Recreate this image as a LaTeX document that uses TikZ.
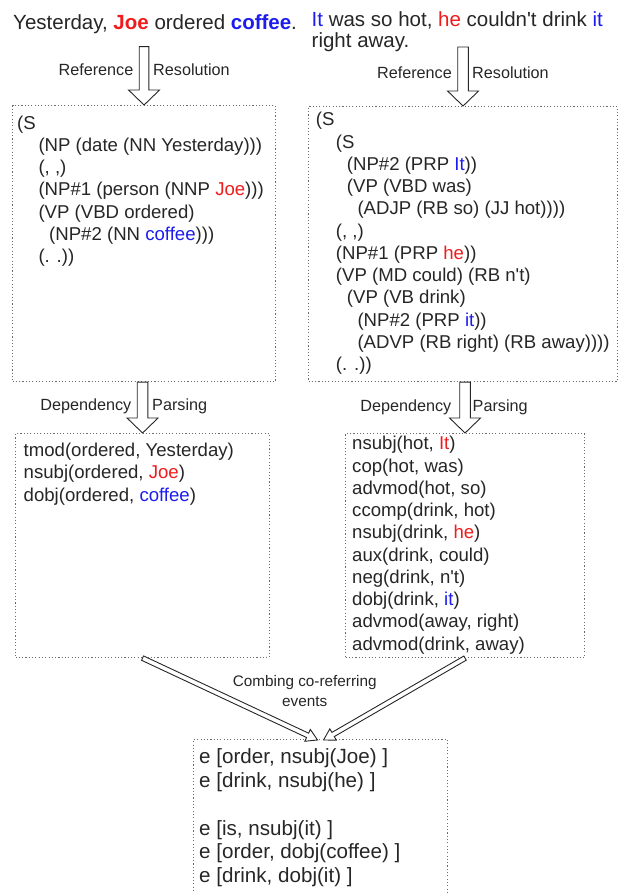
\documentclass[tikz,border=0pt]{standalone}
\usepackage{fontspec}
\setmainfont{Liberation Sans}
\usetikzlibrary{calc}
\definecolor{myred}{RGB}{238,28,28}
\definecolor{myblue}{RGB}{28,28,238}
\definecolor{ink}{RGB}{38,38,38}
\newcommand{\redw}[1]{\textcolor{myred}{#1}}
\newcommand{\bluew}[1]{\textcolor{myblue}{#1}}
\newcommand{\apos}{\textquotesingle}
% hollow block arrow: #1 from, #2 to, #3 shaft half width, #4 head half width, #5 head length
\newcommand{\blockarrow}[5]{%
  \coordinate (bac) at ($(#2)!#5!(#1)$);
  \draw[blockarr] ($(#1)!#3!90:(#2)$) -- ($(bac)!#3!90:(#2)$) -- ($(bac)!#4!90:(#2)$)
    -- (#2) -- ($(bac)!#4!-90:(#2)$) -- ($(bac)!#3!-90:(#2)$) -- ($(#1)!#3!-90:(#2)$) -- cycle;
}
\tikzset{
  titletxt/.style={anchor=base west, inner sep=0pt, font=\fontsize{20.5}{23}\selectfont, text=ink},
  treetxt/.style={anchor=base west, inner sep=0pt, font=\fontsize{18.6}{22}\selectfont, text=ink},
  evtxt/.style={anchor=base west, inner sep=0pt, font=\fontsize{20.6}{23}\selectfont, text=ink},
  lbl/.style={inner sep=0pt, font=\fontsize{16.2}{19}\selectfont, text=ink},
  combtxt/.style={inner sep=0pt, align=center, font=\fontsize{15.3}{20}\selectfont, text=ink},
  dotbox/.style={draw=gray!85!black, line width=1.1pt, dash pattern=on 1.1pt off 2.2pt, inner sep=0pt, anchor=north west},
  blockarr/.style={draw=ink, line width=0.9pt, fill=white, line join=miter},
}
\begin{document}
\begin{tikzpicture}[x=1pt,y=-1pt]
\useasboundingbox (0,0) rectangle (619,893);

% titles
\node[titletxt] (t1) at (13,29.3) {Yesterday, \textbf{\redw{Joe}} ordered \textbf{\bluew{coffee}}.};
\node[titletxt] (t2a) at (311.5,26.7) {\bluew{It} was so hot, \redw{he} couldn\apos t drink \bluew{it}};
\node[titletxt] (t2b) at (311.5,47.7) {right away.};

% boxes
\node[dotbox, minimum width=263pt, minimum height=276pt] (box1) at (12,105) {};
\node[dotbox, minimum width=309pt, minimum height=275pt] (box2) at (308,106) {};
\node[dotbox, minimum width=254pt, minimum height=224pt] (box3) at (15,433) {};
\node[dotbox, minimum width=239pt, minimum height=224pt] (box4) at (345,433) {};
\node[dotbox, minimum width=254pt, minimum height=170pt] (box5) at (193,739) {};

% tree 1
\node[treetxt] (p1a) at (17,129.1) {(S};
\node[treetxt] (p1b) at (38.3,151.4) {(NP (date (NN Yesterday)))};
\node[treetxt] (p1c) at (38.3,173.7) {(, ,)};
\node[treetxt] (p1d) at (38.3,196.0) {(NP\#1 (person (NNP \redw{Joe})))};
\node[treetxt] (p1e) at (38.3,218.3) {(VP (VBD ordered)};
\node[treetxt] (p1f) at (49,240.6) {(NP\#2 (NN \bluew{coffee})))};
\node[treetxt] (p1g) at (38.3,262.9) {(. .))};

% tree 2
\node[treetxt] (p2a) at (315.7,125.8) {(S};
\node[treetxt] (p2b) at (335.7,148.1) {(S};
\node[treetxt] (p2c) at (346.7,170.3) {(NP\#2 (PRP \bluew{It}))};
\node[treetxt] (p2d) at (346.7,192.6) {(VP (VBD was)};
\node[treetxt] (p2e) at (357.3,214.9) {(ADJP (RB so) (JJ hot))))};
\node[treetxt] (p2f) at (335.7,237.1) {(, ,)};
\node[treetxt] (p2g) at (335.7,259.4) {(NP\#1 (PRP \redw{he}))};
\node[treetxt] (p2h) at (335.7,281.7) {(VP (MD could) (RB n\apos t)};
\node[treetxt] (p2i) at (346.7,303.9) {(VP (VB drink)};
\node[treetxt] (p2j) at (357.3,326.2) {(NP\#2 (PRP \bluew{it}))};
\node[treetxt] (p2k) at (357.3,348.5) {(ADVP (RB right) (RB away))))};
\node[treetxt] (p2l) at (335.7,370.8) {(. .))};

% dependencies 1
\node[treetxt] (d1a) at (23.5,456.5) {tmod(ordered, Yesterday)};
\node[treetxt] (d1b) at (23.5,478.8) {nsubj(ordered, \redw{Joe})};
\node[treetxt] (d1c) at (23.5,501.1) {dobj(ordered, \bluew{coffee})};

% dependencies 2
\node[treetxt] (d2a) at (352,449.8) {nsubj(hot, \redw{It})};
\node[treetxt] (d2b) at (352,472.1) {cop(hot, was)};
\node[treetxt] (d2c) at (352,494.3) {advmod(hot, so)};
\node[treetxt] (d2d) at (352,516.6) {ccomp(drink, hot)};
\node[treetxt] (d2e) at (352,538.8) {nsubj(drink, \redw{he})};
\node[treetxt] (d2f) at (352,561.1) {aux(drink, could)};
\node[treetxt] (d2g) at (352,583.3) {neg(drink, n\apos t)};
\node[treetxt] (d2h) at (352,605.6) {dobj(drink, \bluew{it})};
\node[treetxt] (d2i) at (352,627.8) {advmod(away, right)};
\node[treetxt] (d2j) at (352,650.1) {advmod(drink, away)};

% events
\node[evtxt] (e1) at (199,763.7) {e [order, nsubj(Joe) ]};
\node[evtxt] (e2) at (199,787.0) {e [drink, nsubj(he) ]};
\node[evtxt] (e3) at (199,835.4) {e [is, nsubj(it) ]};
\node[evtxt] (e4) at (199,858.7) {e [order, dobj(coffee) ]};
\node[evtxt] (e5) at (199,882.0) {e [drink, dobj(it) ]};

% block arrows
\coordinate (a1s) at (box1.north |- 0,46.7);
\coordinate (a2s) at (box2.north |- 0,47);
\coordinate (a3s) at (box3.north |- box1.south);
\coordinate (a4s) at (box4.north |- box2.south);
\blockarrow{a1s}{box1.north}{4.8pt}{15.5pt}{15pt}
\blockarrow{a2s}{box2.north}{5.3pt}{15.5pt}{15pt}
\blockarrow{a3s}{box3.north}{5.3pt}{15.5pt}{15pt}
\blockarrow{a4s}{box4.north}{5.3pt}{15.5pt}{15pt}

\coordinate (d1e) at ($(box5.north)+(-3,1)$);
\coordinate (d2e) at ($(box5.north)+(3,1)$);
\blockarrow{box3.south}{d1e}{2.4pt}{6.5pt}{11pt}
\blockarrow{box4.south}{d2e}{2.4pt}{6.5pt}{11pt}

% arrow labels
\node[lbl, anchor=base east] (l1a) at (133.5,76) {Reference};
\node[lbl, anchor=base west] (l1b) at (153,76) {Resolution};
\node[lbl, anchor=base east] (l2a) at (452,78.5) {Reference};
\node[lbl, anchor=base west] (l2b) at (472,78.5) {Resolution};
\node[lbl, anchor=base east] (l3a) at (131.5,410) {Dependency};
\node[lbl, anchor=base west] (l3b) at (152,410) {Parsing};
\node[lbl, anchor=base east] (l4a) at (451.5,411.5) {Dependency};
\node[lbl, anchor=base west] (l4b) at (472.5,411.5) {Parsing};
\node[combtxt] (comb) at (304.7,691.5) {Combing co-referring\\events};
\end{tikzpicture}
\end{document}
